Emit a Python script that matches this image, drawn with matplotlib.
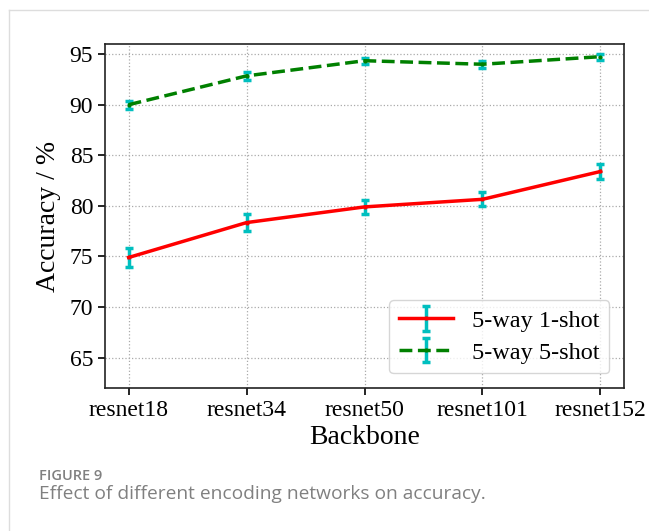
import numpy as np
import matplotlib
matplotlib.use("Agg")
import matplotlib.pyplot as plt
from matplotlib.lines import Line2D

backbones = ["resnet18", "resnet34", "resnet50", "resnet101", "resnet152"]
acc_1shot = [74.9, 78.35, 79.9, 80.65, 83.4]
err_1shot = [0.9, 0.8, 0.7, 0.7, 0.7]
acc_5shot = [90.0, 92.85, 94.35, 94.0, 94.75]
err_5shot = [0.4, 0.4, 0.3, 0.35, 0.3]

plt.rcParams["font.family"] = ["Liberation Serif", "DejaVu Serif"]

fig = plt.figure(figsize=(6.49, 5.31), dpi=100)
ax = fig.add_axes([0.1618, 0.2693, 0.7997, 0.6478])

x = np.arange(len(backbones))
ax.errorbar(x, acc_1shot, yerr=err_1shot, color="r", ls="-", lw=2.5,
            marker=".", markersize=4, ecolor="c", elinewidth=2.5, capsize=3,
            capthick=2.5, label="5-way 1-shot")
ax.errorbar(x, acc_5shot, yerr=err_5shot, color="g", ls="--", lw=2.5,
            marker=".", markersize=4, ecolor="c", elinewidth=2.5, capsize=3,
            capthick=2.5, label="5-way 5-shot")

ax.set_xlim(-0.2, 4.2)
ax.set_ylim(62, 96)
ax.set_xticks(x)
ax.set_xticklabels(backbones)
ax.set_yticks([65, 70, 75, 80, 85, 90, 95])
ax.tick_params(labelsize=17, width=1.2, length=5)
ax.grid(True, ls=":", color="#aaaaaa", lw=0.9)
for s in ax.spines.values():
    s.set_linewidth(1.2)
    s.set_color("#222222")
ax.set_xlabel("Backbone", fontsize=20, labelpad=3)
ax.set_ylabel("Accuracy / %", fontsize=20, labelpad=6)
ax.legend(loc="lower right", fontsize=17.5, handlelength=2.2,
          borderaxespad=0.6, labelspacing=0.4, framealpha=0.8)

# page frame and caption
fig.add_artist(Line2D([9 / 649, 1.0], [1 - 10 / 531, 1 - 10 / 531],
                      color="#dddddd", lw=1))
fig.add_artist(Line2D([9 / 649, 9 / 649], [0.0, 1 - 10 / 531],
                      color="#dddddd", lw=1))
fig.text(39 / 649, 1 - 480 / 531, "FIGURE 9", family="Open Sans",
         weight="semibold", fontsize=10.5, color="#808080", va="baseline")
fig.text(39 / 649, 1 - 499 / 531, "Effect of different encoding networks on accuracy.",
         family="Open Sans", fontsize=13.8, color="#808080", va="baseline")

fig.savefig("out.png", dpi=100)
